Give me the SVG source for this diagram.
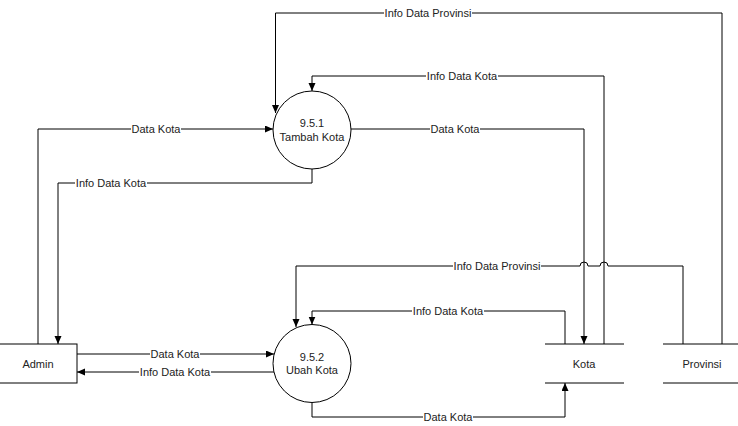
<svg xmlns="http://www.w3.org/2000/svg" width="738" height="426" viewBox="0 0 738 426">
<style>
.ln{fill:none;stroke:#000;stroke-width:1}
.arr{marker-end:url(#ah)}
.lbl{font-family:"Liberation Sans",Arial,sans-serif;font-size:11px;fill:#222;text-anchor:middle;dominant-baseline:central}
.bg{fill:#fff}
.nd{fill:#fff;stroke:#000;stroke-width:1}
.tx{font-family:"Liberation Sans",Arial,sans-serif;font-size:11px;fill:#222;text-anchor:middle;dominant-baseline:central}
</style>
<defs>
<marker id="ah" markerWidth="9" markerHeight="8" refX="8" refY="3.5" orient="auto" markerUnits="userSpaceOnUse">
<path d="M0,0 L8,3.5 L0,7 z" fill="#000"/>
</marker>
</defs>
<rect width="738" height="426" fill="#fff"/>
<g id="connectors">
<path class="ln arr" d="M722,344 V13 H275.5 V113"/>
<path class="ln arr" d="M604,344 V76 H312 V91"/>
<path class="ln arr" d="M351,129 H584 V344"/>
<path class="ln arr" d="M38,344 V129 H273"/>
<path class="ln arr" d="M312,169 V183 H58 V344"/>
<path class="ln arr" d="M683,344 V266 H608 a4,4 0 0 0 -8,0 H588 a4,4 0 0 0 -8,0 H296 V327"/>
<path class="ln arr" d="M565,344 V311 H312 V324.5"/>
<path class="ln arr" d="M312,402.5 V417 H565 V383"/>
<path class="ln arr" d="M77,354 H274"/>
<path class="ln arr" d="M274,372 H77"/>
<rect class="bg" x="384" y="7" width="88" height="12"/>
<text class="lbl" x="428" y="13">Info Data Provinsi</text>
<rect class="bg" x="426" y="70" width="72" height="12"/>
<text class="lbl" x="462" y="76">Info Data Kota</text>
<rect class="bg" x="430" y="123" width="50" height="12"/>
<text class="lbl" x="455" y="129">Data Kota</text>
<rect class="bg" x="131" y="123" width="50" height="12"/>
<text class="lbl" x="156" y="129">Data Kota</text>
<rect class="bg" x="75" y="177" width="72" height="12"/>
<text class="lbl" x="111" y="183">Info Data Kota</text>
<rect class="bg" x="453" y="260" width="88" height="12"/>
<text class="lbl" x="497" y="266">Info Data Provinsi</text>
<rect class="bg" x="412" y="305" width="72" height="12"/>
<text class="lbl" x="448" y="311">Info Data Kota</text>
<rect class="bg" x="423" y="411" width="50" height="12"/>
<text class="lbl" x="448" y="417">Data Kota</text>
<rect class="bg" x="150" y="348" width="50" height="12"/>
<text class="lbl" x="175" y="354">Data Kota</text>
<rect class="bg" x="139" y="366" width="72" height="12"/>
<text class="lbl" x="175" y="372">Info Data Kota</text>
</g>
<g id="p951">
<circle class="nd" cx="312" cy="130" r="39"/>
<text class="tx" x="312" y="123">9.5.1</text>
<text class="tx" x="312" y="137">Tambah Kota</text>
</g>
<g id="p952">
<circle class="nd" cx="312" cy="363.5" r="39"/>
<text class="tx" x="312" y="357">9.5.2</text>
<text class="tx" x="312" y="370">Ubah Kota</text>
</g>
<g id="admin">
<rect class="nd" x="-1" y="344" width="78" height="39"/>
<text class="tx" x="38" y="363.5">Admin</text>
</g>
<g id="kota">
<line class="ln" x1="545" y1="344" x2="624" y2="344"/>
<line class="ln" x1="545" y1="383" x2="624" y2="383"/>
<text class="tx" x="584" y="363.5">Kota</text>
</g>
<g id="provinsi">
<line class="ln" x1="663" y1="344" x2="738" y2="344"/>
<line class="ln" x1="663" y1="383" x2="738" y2="383"/>
<text class="tx" x="702" y="363.5">Provinsi</text>
</g>
</svg>
